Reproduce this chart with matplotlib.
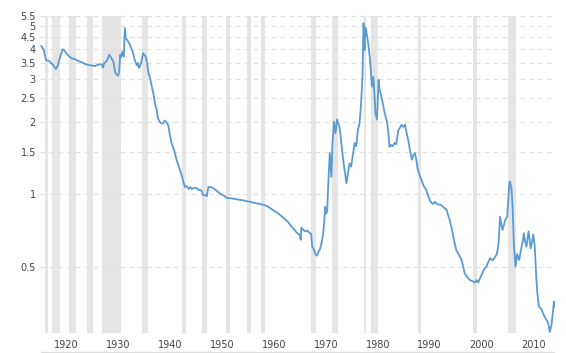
import matplotlib
matplotlib.use("Agg")
import matplotlib.pyplot as plt
from matplotlib.ticker import FixedLocator, NullLocator, FixedFormatter
from matplotlib.transforms import ScaledTranslation
from matplotlib.lines import Line2D

# ---- data ----
years = [1917.9, 1918.2, 1918.4, 1918.8, 1919.1, 1919.4, 1919.8, 1920.2, 1920.5, 1920.7,
         1920.9, 1921.2, 1921.6, 1922.0, 1922.3, 1922.7, 1923.3, 1923.8, 1924.4, 1925.0,
         1925.7, 1926.3, 1927.0, 1927.6, 1928.3, 1928.8, 1929.2, 1929.5, 1929.8, 1930.0,
         1930.4, 1930.7, 1931.0, 1931.3, 1931.8, 1932.1, 1932.4, 1932.7, 1932.9, 1933.1,
         1933.3, 1933.5, 1933.8, 1934.0, 1934.2, 1934.5, 1935.0, 1935.3, 1935.6, 1935.9,
         1936.3, 1936.5, 1936.7, 1936.9, 1937.2, 1937.5, 1937.8, 1938.0, 1938.3, 1938.5,
         1938.9, 1939.2, 1939.5, 1939.8, 1940.1, 1940.4, 1940.7, 1941.0, 1941.3, 1941.7,
         1942.0, 1942.4, 1942.7, 1943.0, 1943.5, 1944.0, 1944.5, 1945.0, 1945.3, 1945.6,
         1945.9, 1946.3, 1946.6, 1946.9, 1947.3, 1947.8, 1948.2, 1948.5, 1948.8, 1949.1,
         1949.5, 1949.8, 1950.1, 1950.6, 1951.0, 1951.5, 1952.0, 1952.5, 1953.3, 1953.5,
         1954.5, 1955.8, 1957.0, 1958.0, 1959.0, 1960.3, 1961.0, 1961.6, 1962.5, 1963.5,
         1964.5, 1965.4, 1966.0, 1966.7, 1967.2, 1967.7, 1967.9, 1968.0, 1968.4, 1968.8,
         1969.2, 1969.6, 1969.9, 1970.1, 1970.4, 1970.7, 1971.0, 1971.3, 1971.6, 1971.9,
         1972.2, 1972.4, 1972.6, 1972.8, 1973.0, 1973.2, 1973.5, 1973.8, 1974.0, 1974.3,
         1974.6, 1974.9, 1975.2, 1975.4, 1975.7, 1976.0, 1976.3, 1976.7, 1977.0, 1977.3,
         1977.6, 1978.0, 1978.3, 1978.6, 1978.9, 1979.2, 1979.5, 1979.8, 1980.0, 1980.1,
         1980.2, 1980.35, 1980.5, 1980.7, 1980.9, 1981.2, 1981.4, 1981.6, 1981.9, 1982.1,
         1982.3, 1982.6, 1982.9, 1983.1, 1983.3, 1983.6, 1984.1, 1984.5, 1984.8, 1985.0,
         1985.3, 1985.6, 1986.0, 1986.3, 1986.7, 1987.0, 1987.3, 1987.7, 1988.0, 1988.3,
         1988.6, 1989.0, 1989.3, 1989.6, 1989.9, 1990.2, 1990.4, 1990.8, 1991.2, 1991.6,
         1992.1, 1992.5, 1992.8, 1993.1, 1993.4, 1993.8, 1994.1, 1994.6, 1995.0, 1995.5,
         1996.0, 1996.3, 1996.6, 1997.0, 1997.3, 1997.6, 1997.9, 1998.4, 1998.9, 1999.2,
         1999.5, 1999.9, 2000.5, 2001.0, 2001.5, 2001.8, 2002.1, 2002.5, 2002.9, 2003.3,
         2003.7, 2004.0, 2004.4, 2004.7, 2005.0, 2005.4, 2005.7, 2006.0, 2006.1, 2006.3,
         2006.6, 2006.8, 2007.1, 2007.3, 2007.7, 2007.9, 2008.1, 2008.2, 2008.5, 2008.7,
         2008.9, 2009.0, 2009.3, 2009.6, 2010.0, 2010.4, 2010.7, 2010.9, 2011.1, 2011.4,
         2011.8, 2012.0, 2012.2, 2012.5, 2012.7, 2013.0, 2013.3, 2013.5, 2013.8, 2014.3,
         2014.6, 2014.9, 2015.3, 2015.6, 2015.9, 2016.2, 2016.4, 2016.7, 2016.9]
values = [4.12, 4.02, 3.96, 3.60, 3.58, 3.57, 3.50, 3.43, 3.35, 3.31,
          3.35, 3.49, 3.75, 3.99, 3.96, 3.85, 3.72, 3.66, 3.63, 3.57,
          3.52, 3.47, 3.43, 3.42, 3.40, 3.44, 3.46, 3.46, 3.35, 3.50,
          3.54, 3.65, 3.78, 3.70, 3.54, 3.22, 3.14, 3.10, 3.20, 3.78,
          3.70, 3.90, 3.72, 4.88, 4.43, 4.35, 4.16, 4.00, 3.84, 3.60,
          3.43, 3.50, 3.34, 3.38, 3.55, 3.84, 3.78, 3.72, 3.50, 3.22,
          3.00, 2.79, 2.62, 2.38, 2.25, 2.06, 2.00, 1.97, 1.96, 2.02,
          1.99, 1.92, 1.75, 1.63, 1.52, 1.38, 1.28, 1.19, 1.12, 1.07,
          1.08, 1.05, 1.07, 1.05, 1.06, 1.06, 1.04, 1.04, 1.03, 0.99,
          0.99, 0.98, 1.07, 1.07, 1.06, 1.04, 1.02, 1.00, 0.98, 0.966,
          0.96, 0.95, 0.94, 0.93, 0.92, 0.908, 0.90, 0.887, 0.86, 0.833,
          0.80, 0.768, 0.74, 0.71, 0.69, 0.677, 0.646, 0.726, 0.71, 0.70,
          0.705, 0.69, 0.685, 0.605, 0.59, 0.565, 0.555, 0.575, 0.59, 0.625,
          0.68, 0.757, 0.887, 0.83, 0.85, 1.10, 1.48, 1.18, 1.60, 2.00,
          1.79, 2.04, 1.95, 1.88, 1.65, 1.43, 1.28, 1.11, 1.22, 1.34,
          1.30, 1.48, 1.63, 1.58, 1.84, 1.95, 2.31, 3.07, 5.12, 4.50,
          3.96, 4.90, 4.80, 4.50, 4.22, 3.72, 3.30, 2.79, 3.07, 2.60,
          2.16, 2.04, 2.98, 2.70, 2.62, 2.45, 2.16, 2.00, 1.79, 1.57,
          1.60, 1.58, 1.63, 1.61, 1.84, 1.88, 1.94, 1.90, 1.94, 1.80,
          1.68, 1.50, 1.39, 1.45, 1.48, 1.38, 1.28, 1.20, 1.14, 1.08,
          1.04, 0.98, 0.94, 0.92, 0.91, 0.93, 0.91, 0.905, 0.90, 0.88,
          0.86, 0.82, 0.78, 0.72, 0.666, 0.62, 0.584, 0.56, 0.533, 0.50,
          0.469, 0.455, 0.44, 0.435, 0.43, 0.44, 0.43, 0.45, 0.47, 0.49,
          0.50, 0.52, 0.542, 0.535, 0.533, 0.55, 0.564, 0.62, 0.666, 0.806,
          0.74, 0.71, 0.75, 0.78, 0.806, 0.94, 1.11, 1.13, 1.057, 0.91,
          0.70, 0.605, 0.50, 0.564, 0.533, 0.596, 0.64, 0.688, 0.64, 0.605,
          0.70, 0.65, 0.596, 0.64, 0.68, 0.605, 0.45, 0.388, 0.341, 0.333,
          0.32, 0.31, 0.30, 0.291, 0.268, 0.285, 0.31, 0.358, 0.341]

recession_start = [1918.58, 1920.0, 1923.33, 1926.75, 1929.58, 1937.33, 1945.08, 1948.83,
                   1953.5, 1957.58, 1960.25, 1969.92, 1973.83, 1980.0, 1981.5, 1990.5,
                   2001.17, 2007.92]
recession_end = [1919.17, 1921.5, 1924.5, 1927.83, 1933.17, 1938.42, 1945.75, 1949.75,
                 1954.33, 1958.25, 1961.08, 1970.83, 1975.17, 1980.5, 1982.83, 1991.17,
                 2001.83, 2009.42]

y_ticks = [0.5, 1, 1.5, 2, 2.5, 3, 3.5, 4, 4.5, 5, 5.5]
y_labels = ["0.5", "1", "1.5", "2", "2.5", "3", "3.5", "4", "4.5", "5", "5.5"]
x_ticks = [1920, 1930, 1940, 1950, 1960, 1970, 1980, 1990, 2000, 2010]
x_labels = [str(v) for v in x_ticks]

# ---- figure ----
W, H = 566, 353
fig = plt.figure(figsize=(W / 100, H / 100), dpi=100)
left, right, top, bottom = 40, 555, 15.7, 332.7
ax = fig.add_axes([left / W, 1 - bottom / H, (right - left) / W, (bottom - top) / H])

ax.set_yscale("log")
ax.set_xlim(1917.65, 2016.9)
ax.set_ylim(0.266, 5.5)

for s, e in zip(recession_start, recession_end):
    ax.axvspan(s, e, color="#e5e5e5", lw=0, zorder=0)

ax.plot(years, values, color="#5b9bd3", lw=1.3, zorder=3)

ax.yaxis.set_major_locator(FixedLocator(y_ticks))
ax.yaxis.set_major_formatter(FixedFormatter(y_labels))
ax.yaxis.set_minor_locator(NullLocator())
ax.set_xticks(x_ticks)
ax.set_xticklabels(x_labels)

for v in y_ticks + [0.266]:
    ax.axhline(v, color="#dedede", lw=0.8, ls=(0, (4, 4)), zorder=1)

for sp in ax.spines.values():
    sp.set_visible(False)

ax.tick_params(axis="y", length=0, pad=3, labelsize=7, labelcolor="#444444")
ax.tick_params(axis="x", length=0, pad=5, labelsize=7, labelcolor="#444444")
off = ScaledTranslation(2 / 100, 0, fig.dpi_scale_trans)
for lab in ax.get_xticklabels():
    lab.set_horizontalalignment("left")
    lab.set_transform(lab.get_transform() + off)

fig.add_artist(Line2D([41 / W, 554 / W], [1 - 351.5 / H] * 2, color="#dddddd", lw=1))

fig.savefig("out.png", dpi=100)
